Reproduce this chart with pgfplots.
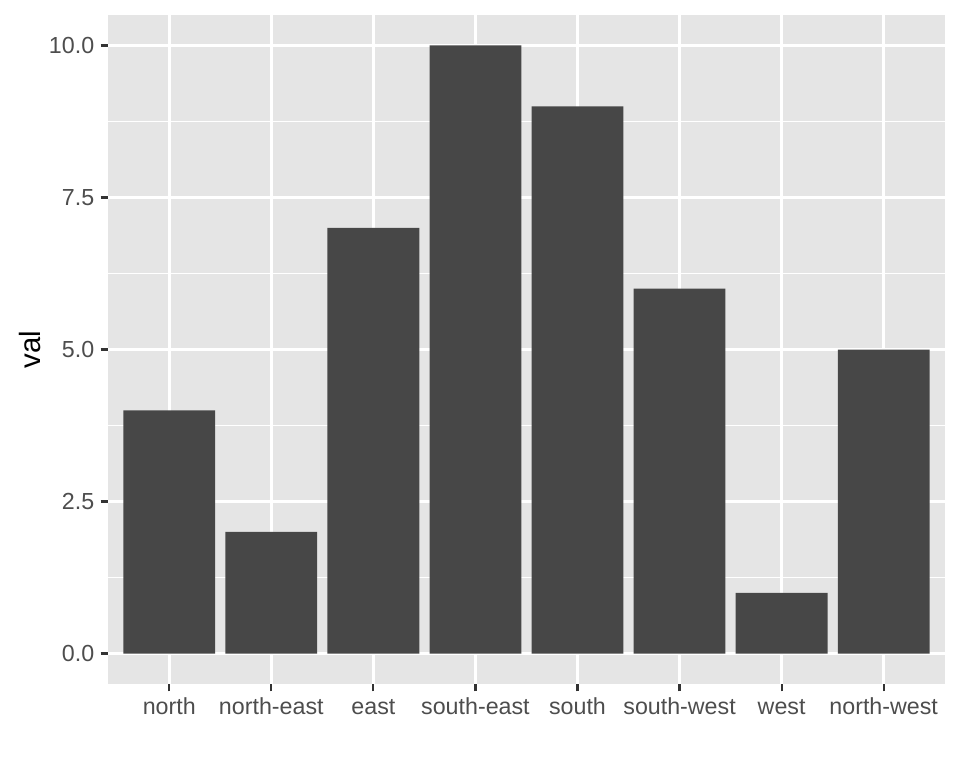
\documentclass[border=0pt]{standalone}
\usepackage{fontspec}
\setmainfont{Liberation Sans}
\usepackage{pgfplots}
\pgfplotsset{compat=1.18}
\definecolor{panelbg}{HTML}{E5E5E5}
\definecolor{barfill}{HTML}{474747}
\definecolor{ticklab}{HTML}{4D4D4D}
\definecolor{tickcol}{HTML}{333333}
\begin{document}
\begin{tikzpicture}
\useasboundingbox (0,0) rectangle (504pt,403.2pt);
\begin{axis}[
  at={(56.7pt,44.1pt)}, anchor=south west,
  scale only axis, width=439.4pt, height=351.2pt,
  xmin=0.4, xmax=8.6, ymin=-0.5, ymax=10.5,
  axis background/.style={fill=panelbg},
  axis line style={draw=none},
  xtick={1,2,3,4,5,6,7,8},
  xticklabels={north,north-east,east,south-east,south,south-west,west,north-west},
  ytick={0,2.5,5,7.5,10},
  minor ytick={1.25,3.75,6.25,8.75},
  yticklabel style={inner sep=2.2pt, xshift=-1pt, /pgf/number format/fixed, /pgf/number format/fixed zerofill, /pgf/number format/precision=1, /pgf/number format/assume math mode=true},
  ticklabel style={font=\fontsize{12.2}{14}\selectfont, text=ticklab},
  xticklabel style={text height=0.73em, text depth=0pt, inner sep=1.6pt, yshift=-3.3pt},
  xtick pos=bottom, ytick pos=left,
  tick align=outside,
  major tick length=3.85pt, minor tick length=0pt,
  tick style={draw=tickcol, line width=1.15pt},
  xmajorgrids, ymajorgrids, yminorgrids,
  major grid style={white, line width=1.4pt},
  minor grid style={white, line width=0.7pt},
  ybar, bar width=0.9, bar shift=0pt,
]
\addplot[fill=barfill, draw=none] coordinates {(1,4) (2,2) (3,7) (4,10) (5,9) (6,6) (7,1) (8,5)};
\end{axis}
\node[rotate=90, font=\fontsize{15.4}{18}\selectfont] at (15.75pt,219.7pt) {val};
\end{tikzpicture}
\end{document}
